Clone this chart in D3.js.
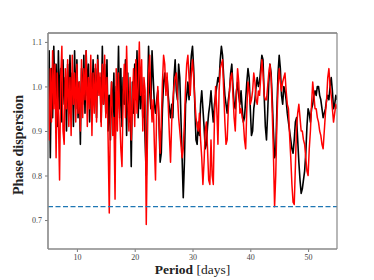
<!DOCTYPE html>
<html>
<head>
<meta charset="utf-8">
<script src="https://cdn.jsdelivr.net/npm/d3@7"></script>
<style>
  body { margin: 0; background: #fff; }
  text { font-family: "Liberation Serif", "DejaVu Serif", serif; }
</style>
</head>
<body>
<div id="chart"></div>
<script>
// periods sampled on a regular grid, days
const PERIOD_START = 5;
const PERIOD_STEP = 0.2;

// black curve
const blackDispersion = [
    0.96, 1.08, 0.84, 1.04, 0.93, 1.09, 0.97, 1.05, 0.91, 1.08,
    0.95, 1.04, 0.92, 1.06, 0.96, 1.02, 0.90, 1.05, 0.94, 1.07,
    0.97, 1.03, 0.91, 1.08, 0.95, 1.06, 0.93, 1.01, 0.87, 1.04,
    0.96, 1.07, 0.94, 1.08, 0.98, 1.05, 0.92, 1.03, 0.95, 1.06,
    0.97, 1.04, 0.93, 1.07, 0.99, 1.02, 0.92, 1.09, 0.96, 1.05,
    0.94, 1.06, 0.90, 0.98, 0.88, 1.01, 0.93, 1.03, 0.86, 1.00,
    0.95, 1.09, 0.93, 1.04, 0.91, 1.02, 0.96, 1.06, 0.89, 1.03,
    0.92, 0.98, 0.82, 1.01, 0.94, 1.05, 0.97, 1.08, 0.93, 1.04,
    0.95, 1.02, 0.93, 0.98, 0.88, 0.80, 0.96, 1.09, 0.99, 0.95,
    1.08, 1.02, 0.96, 0.94, 0.97, 0.99, 0.92, 0.83, 0.85, 0.95,
    1.01, 1.03, 0.99, 1.02, 0.98, 0.95, 0.93, 0.96, 0.93, 1.02,
    1.06, 0.99, 0.97, 1.05, 1.02, 0.93, 0.84, 0.75, 0.83, 0.96,
    0.98, 1.01, 0.97, 1.03, 1.07, 1.09, 1.04, 0.96, 0.88, 0.87,
    0.92, 0.89, 0.96, 0.99, 0.95, 0.91, 0.86, 0.87, 0.91, 0.94,
    0.96, 0.99, 0.95, 0.92, 0.96, 0.98, 1.00, 1.02, 1.01, 1.06,
    1.09, 1.07, 1.02, 0.98, 0.96, 0.94, 0.97, 0.99, 1.03, 1.05,
    1.00, 0.96, 0.95, 0.99, 1.01, 0.98, 0.96, 0.99, 0.95, 0.92,
    0.93, 0.97, 1.01, 1.04, 1.02, 0.95, 0.89, 0.90, 0.95, 0.97,
    1.00, 1.02, 1.00, 1.01, 1.04, 1.07, 1.06, 0.98, 0.91, 0.88,
    0.94, 1.01, 1.05, 1.03, 0.97, 0.90, 0.84, 0.85, 0.95, 1.03,
    1.07, 1.04, 0.98, 0.96, 1.00, 0.99, 0.97, 0.94, 0.92, 0.90,
    0.88, 0.86, 0.85, 0.88, 0.92, 0.93, 0.88, 0.83, 0.79, 0.76,
    0.77, 0.79, 0.81, 0.85, 0.91, 0.95, 0.94, 0.92, 0.95, 0.96,
    0.98, 0.99, 0.98, 1.00, 1.00, 0.98, 0.97, 0.95, 0.93, 0.94,
    0.95, 0.97, 0.98, 0.97, 1.00, 1.02, 0.99, 0.95, 0.96, 0.98,
    0.97
];

// red curve
const redDispersion = [
    1.00, 0.88, 1.04, 0.92, 1.08, 0.95, 1.05, 0.84, 1.03, 0.93,
    0.79, 1.02, 1.09, 0.90, 0.87, 1.04, 0.95, 1.06, 0.91, 1.02,
    0.89, 1.07, 0.96, 1.03, 0.92, 1.05, 0.94, 1.01, 0.90, 1.06,
    0.93, 1.04, 0.97, 1.08, 0.91, 1.02, 0.95, 1.07, 0.89, 1.03,
    0.94, 1.05, 0.92, 1.06, 0.98, 1.03, 0.91, 1.05, 0.96, 1.07,
    0.93, 1.02, 0.88, 0.716, 0.95, 1.01, 0.89, 0.93, 0.747, 1.04,
    0.90, 1.03, 0.94, 0.86, 0.82, 0.98, 1.05, 0.93, 1.09, 0.97,
    0.90, 1.02, 0.88, 0.96, 1.04, 0.91, 1.06, 0.94, 1.00, 1.10,
    0.98, 1.06, 0.90, 1.02, 0.99, 0.69, 0.88, 1.03, 1.07, 0.98,
    0.92, 0.97, 0.87, 0.79, 0.95, 1.00, 0.93, 0.85, 0.92, 1.01,
    1.07, 1.05, 0.98, 1.03, 0.96, 0.89, 0.83, 0.92, 0.97, 1.00,
    1.02, 1.03, 0.98, 0.93, 0.90, 0.87, 0.84, 0.86, 0.92, 1.00,
    1.05, 1.07, 1.02, 0.98, 1.03, 1.06, 1.02, 0.97, 0.93, 0.91,
    0.90, 0.94, 0.88, 0.84, 0.78, 0.83, 0.90, 0.92, 0.86, 0.79,
    0.78, 0.88, 0.80, 0.78, 0.93, 1.00, 0.95, 0.87, 0.99, 1.04,
    1.05, 1.06, 0.99, 0.92, 0.87, 0.88, 0.95, 0.99, 1.02, 1.03,
    0.98, 0.93, 0.90, 0.98, 1.04, 1.01, 0.94, 0.95, 0.93, 0.92,
    0.88, 0.86, 0.95, 1.01, 0.99, 0.96, 0.97, 0.99, 1.03, 1.01,
    0.97, 0.96, 0.99, 0.98, 1.02, 1.06, 1.03, 0.98, 0.97, 0.97,
    1.00, 1.03, 1.05, 1.02, 0.94, 0.85, 0.73, 0.80, 0.92, 1.00,
    1.04, 1.01, 0.99, 1.01, 1.02, 1.03, 0.99, 0.96, 0.95, 0.89,
    0.84, 0.78, 0.74, 0.735, 0.82, 0.91, 0.94, 0.96, 0.93, 0.90,
    0.90, 0.88, 0.87, 0.84, 0.81, 0.80, 0.86, 0.90, 0.96, 1.01,
    0.98, 0.95, 0.95, 0.93, 0.92, 0.90, 0.89, 0.87, 0.86, 0.90,
    0.94, 0.97, 1.02, 1.04, 1.00, 0.98, 0.95, 0.92, 0.94, 0.96,
    0.95
];

const threshold = 0.73;
const xTicks = [10, 20, 30, 40, 50];
const yTicks = [0.7, 0.8, 0.9, 1.0, 1.1];
const xDomain = [5, 55];
const yDomain = [0.635, 1.12];

const chartWidth = 374;
const chartHeight = 280;
const margin = { top: 33, right: 37, bottom: 31, left: 48 };
const plotWidth = chartWidth - margin.left - margin.right;
const plotHeight = chartHeight - margin.top - margin.bottom;

const svg = d3.select('#chart')
    .append('svg')
    .attr('width', chartWidth)
    .attr('height', chartHeight);

const plot = svg.append('g')
    .attr('transform', `translate(${margin.left},${margin.top})`);

const x = d3.scaleLinear().domain(xDomain).range([0, plotWidth]);
const y = d3.scaleLinear().domain(yDomain).range([plotHeight, 0]);

plot.append('clipPath')
    .attr('id', 'plotClip')
    .append('rect')
    .attr('width', plotWidth)
    .attr('height', plotHeight);

const line = d3.line()
    .x((d, i) => x(PERIOD_START + i * PERIOD_STEP))
    .y((d) => y(d));

const curves = plot.append('g').attr('clip-path', 'url(#plotClip)');

curves.append('path')
    .datum(blackDispersion)
    .attr('fill', 'none')
    .attr('stroke', '#000')
    .attr('stroke-width', 1.6)
    .attr('stroke-linejoin', 'round')
    .attr('d', line);

curves.append('path')
    .datum(redDispersion)
    .attr('fill', 'none')
    .attr('stroke', '#ff0000')
    .attr('stroke-width', 1.5)
    .attr('stroke-linejoin', 'round')
    .attr('d', line);

// threshold line
plot.append('line')
    .attr('x1', 0)
    .attr('x2', plotWidth)
    .attr('y1', y(threshold))
    .attr('y2', y(threshold))
    .attr('stroke', '#1f77b4')
    .attr('stroke-width', 1.3)
    .attr('stroke-dasharray', '5,2.5');

// axes
const xAxis = plot.append('g')
    .attr('transform', `translate(0,${plotHeight})`)
    .call(d3.axisBottom(x).tickValues(xTicks).tickSize(3).tickPadding(2).tickFormat(d3.format('d')));

const yAxis = plot.append('g')
    .call(d3.axisLeft(y).tickValues(yTicks).tickSize(3).tickPadding(3).tickFormat(d3.format('.1f')));

[xAxis, yAxis].forEach((ax) => {
    ax.select('.domain').remove();
    ax.selectAll('.tick line').attr('stroke', '#777').attr('stroke-width', 1);
    ax.selectAll('.tick text')
        .attr('fill', '#444')
        .style('font-size', '8px')
        .style('font-family', '"Liberation Serif", serif');
});

// spines
plot.append('line')
    .attr('x1', 0).attr('x2', plotWidth).attr('y1', 0).attr('y2', 0)
    .attr('stroke', '#333').attr('stroke-width', 1);
plot.append('line')
    .attr('x1', plotWidth).attr('x2', plotWidth).attr('y1', 0).attr('y2', plotHeight)
    .attr('stroke', '#888').attr('stroke-width', 1.2);
plot.append('line')
    .attr('x1', 0).attr('x2', 0).attr('y1', 0).attr('y2', plotHeight)
    .attr('stroke', '#888').attr('stroke-width', 1.6);
plot.append('line')
    .attr('x1', 0).attr('x2', plotWidth).attr('y1', plotHeight).attr('y2', plotHeight)
    .attr('stroke', '#888').attr('stroke-width', 1.6);

// axis titles
const xTitle = svg.append('text')
    .attr('x', margin.left + plotWidth / 2)
    .attr('y', 274)
    .attr('text-anchor', 'middle')
    .style('font-size', '13.5px')
    .attr('fill', '#222');
xTitle.append('tspan').attr('font-weight', 'bold').text('Period');
xTitle.append('tspan').text(' [days]');

svg.append('text')
    .attr('transform', `translate(23,${margin.top + plotHeight / 2 + 4}) rotate(-90)`)
    .attr('text-anchor', 'middle')
    .attr('font-weight', 'bold')
    .style('font-size', '14px')
    .attr('fill', '#222')
    .text('Phase dispersion');
</script>
</body>
</html>
